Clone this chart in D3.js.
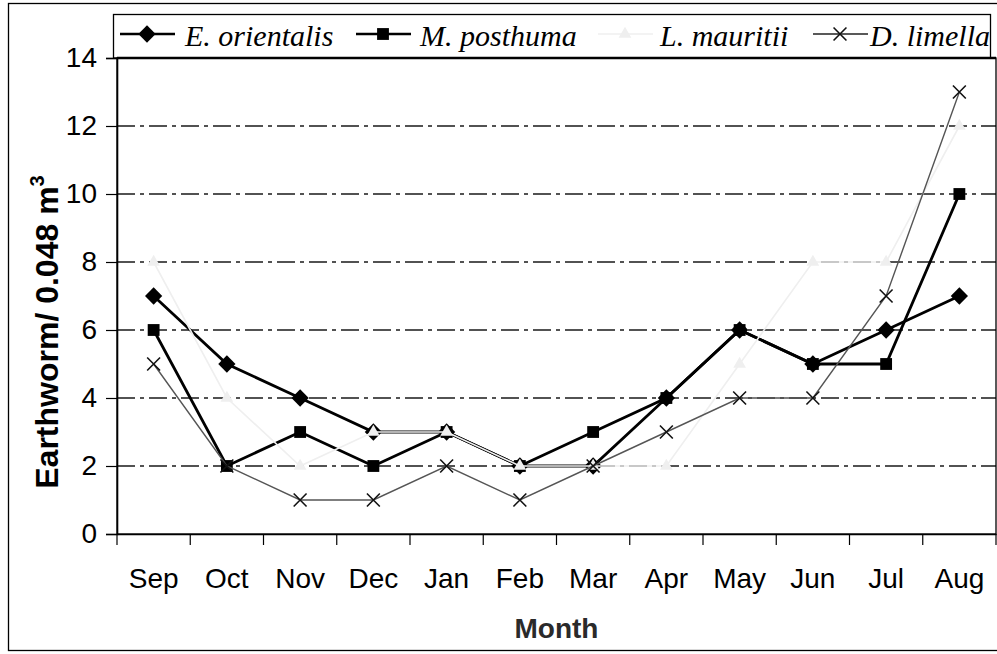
<!DOCTYPE html>
<html><head><meta charset="utf-8">
<script src="https://cdn.jsdelivr.net/npm/d3@7"></script>
<style>body{margin:0;background:#fff}</style>
</head><body>
<svg id="c" width="997" height="654"></svg>
<script>
const months = ["Sep","Oct","Nov","Dec","Jan","Feb","Mar","Apr","May","Jun","Jul","Aug"];
const eOrientalis = [7,5,4,3,3,2,2,4,6,5,6,7];
const mPosthuma   = [6,2,3,2,3,2,3,4,6,5,5,10];
const lMauritii   = [8,4,2,3,3,2,2,2,5,8,8,12];
const dLimella    = [5,2,1,1,2,1,2,3,4,4,7,13];
const yTicks = [0,2,4,6,8,10,12,14];
const seriesNames = ["E. orientalis","M. posthuma","L. mauritii","D. limella"];

const W = 997, H = 654;
const P = {left:117, right:996, top:58, bottom:534};
const svg = d3.select("#c");
const x = d3.scaleBand().domain(months).range([P.left, P.right]);
const y = d3.scaleLinear().domain([0,14]).range([P.bottom, P.top]);
const cx = m => x(m) + x.bandwidth()/2;

svg.append("rect").attr("width",W).attr("height",H).attr("fill","#fff");
// outer frame
svg.append("rect").attr("x",8.5).attr("y",3.5).attr("width",1000).attr("height",647)
  .attr("fill","none").attr("stroke","#000").attr("stroke-width",1.3);

// gridlines
svg.append("g").selectAll("line").data(yTicks.filter(t=>t>0 && t<14)).join("line")
  .attr("x1",P.left).attr("x2",P.right).attr("y1",d=>y(d)).attr("y2",d=>y(d))
  .attr("stroke","#1a1a1a").attr("stroke-width",1.3).attr("stroke-dasharray","18 5 4 5");

// plot border
svg.append("rect").attr("x",P.left).attr("y",P.top).attr("width",P.right-P.left).attr("height",P.bottom-P.top)
  .attr("fill","none").attr("stroke","#000").attr("stroke-width",1.3);
svg.append("line").attr("x1",P.left).attr("x2",P.right).attr("y1",P.top).attr("y2",P.top)
  .attr("stroke","#000").attr("stroke-width",2.6);

// y axis
const ya = svg.append("g").attr("transform",`translate(${P.left},0)`)
  .call(d3.axisLeft(y).tickValues(yTicks).tickSize(11).tickPadding(9));
ya.select(".domain").attr("stroke","#000").attr("stroke-width",1.6);
ya.selectAll("line").attr("stroke","#000").attr("stroke-width",1.2);
ya.selectAll("text").attr("font-family","Liberation Sans, Arial, sans-serif").attr("font-size",28).attr("fill","#000");

// x axis
const xa = svg.append("g").attr("transform",`translate(0,${P.bottom})`)
  .call(d3.axisBottom(x).tickSize(0).tickPadding(34));
xa.select(".domain").attr("stroke","#000").attr("stroke-width",1.6);
xa.selectAll("text").attr("font-family","Liberation Sans, Arial, sans-serif").attr("font-size",28).attr("fill","#000");
const bounds = months.map(m=>x(m)).concat([x(months[months.length-1])+x.bandwidth()]);
svg.append("g").selectAll("line").data(bounds).join("line")
  .attr("x1",d=>d).attr("x2",d=>d).attr("y1",P.bottom).attr("y2",P.bottom+11)
  .attr("stroke","#000").attr("stroke-width",1.2);

// axis titles
svg.append("text").attr("x",(P.left+P.right)/2).attr("y",638).attr("text-anchor","middle")
  .attr("font-family","Liberation Sans, Arial, sans-serif").attr("font-weight","bold").attr("font-size",28)
  .attr("fill","#2a2a2a").text("Month");
const yt = svg.append("text").attr("transform","translate(58,332) rotate(-90)").attr("text-anchor","middle")
  .attr("font-family","Liberation Sans, Arial, sans-serif").attr("font-weight","bold").attr("font-size",32).attr("fill","#000");
yt.append("tspan").text("Earthworm/ 0.048 m");
yt.append("tspan").attr("font-size",20).attr("dy",-14).text("3");

// series
const line = d3.line().x((d,i)=>cx(months[i])).y(d=>y(d));
const styles = [
  {data:eOrientalis, color:"#000", w:2.8, sym:d3.symbolDiamond2, size:190, fill:"#000"},
  {data:mPosthuma,   color:"#000", w:2.8, sym:d3.symbolSquare,   size:140, fill:"#000"},
  {data:lMauritii,   color:"#efefef", w:1.6, sym:d3.symbolTriangle, size:70, fill:"#efefef"},
  {data:dLimella,    color:"#555", w:1.4, sym:d3.symbolTimes,    size:110, fill:"none", mk:"#111"}
];
styles.forEach(s=>{
  svg.append("path").attr("d",line(s.data)).attr("fill","none").attr("stroke",s.color).attr("stroke-width",s.w);
  const g = svg.append("g");
  g.selectAll("path").data(s.data).join("path")
    .attr("transform",(d,i)=>`translate(${cx(months[i])},${y(d)})`)
    .attr("d",d3.symbol(s.sym,s.size)())
    .attr("fill", s.sym===d3.symbolTimes ? "none" : s.fill)
    .attr("stroke", s.sym===d3.symbolTimes ? s.mk : "none")
    .attr("stroke-width",1.6);
});

// legend
svg.append("rect").attr("x",113.5).attr("y",14.5).attr("width",877).attr("height",P.top-14.5)
  .attr("fill","none").attr("stroke","#000").attr("stroke-width",1.3);
const legX = [{ls:120, tx:185},{ls:356, tx:420},{ls:598, tx:660},{ls:813, tx:870}];
const legY = 34;
legX.forEach((p,i)=>{
  const s = styles[i];
  svg.append("line").attr("x1",p.ls).attr("x2",p.ls+55).attr("y1",legY).attr("y2",legY)
    .attr("stroke", i===3 ? "#222" : s.color).attr("stroke-width", i<2 ? 2.6 : 1.6);
  svg.append("path").attr("transform",`translate(${p.ls+27},${legY})`)
    .attr("d",d3.symbol(s.sym,s.size)())
    .attr("fill", s.sym===d3.symbolTimes ? "none" : s.fill)
    .attr("stroke", s.sym===d3.symbolTimes ? s.mk : "none").attr("stroke-width",1.6);
  svg.append("text").attr("x",p.tx).attr("y",46)
    .attr("font-family","Liberation Serif, Times New Roman, serif").attr("font-style","italic")
    .attr("font-size",30).attr("fill","#000").text(seriesNames[i]);
});
</script>
</body></html>
